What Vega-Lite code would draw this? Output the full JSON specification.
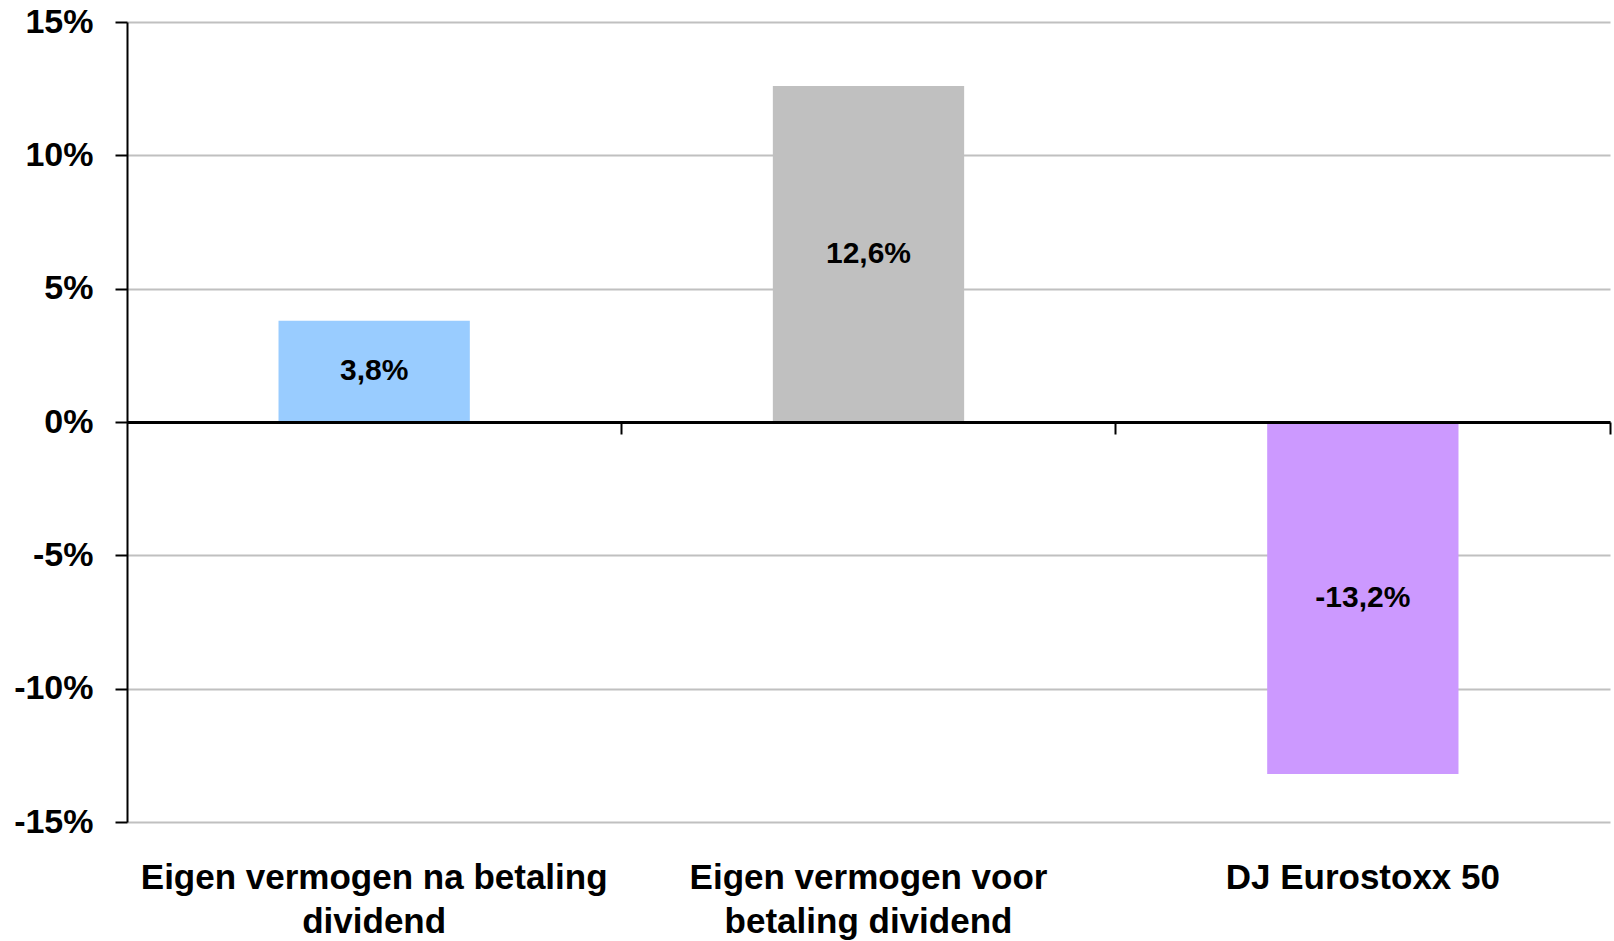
{
  "$schema": "https://vega.github.io/schema/vega-lite/v6.json",
  "width": 1483,
  "height": 800,
  "autosize": {"type": "none"},
  "padding": {"left": 127, "top": 22, "right": 4, "bottom": 119},
  "background": "white",
  "config": {"view": {"stroke": null}, "font": "Liberation Sans"},
  "data": {"values": [
    {"category": "Eigen vermogen na betaling|dividend", "value": 3.8, "label": "3,8%"},
    {"category": "Eigen vermogen voor|betaling dividend", "value": 12.6, "label": "12,6%"},
    {"category": "DJ Eurostoxx 50", "value": -13.2, "label": "-13,2%"}
  ]},
  "resolve": {"axis": {"x": "independent"}},
  "layer": [
    {
      "mark": {"type": "bar"},
      "encoding": {
        "x": {"field": "category", "type": "nominal", "sort": null,
          "scale": {"paddingInner": 0.613, "paddingOuter": 0.3065},
          "axis": {"title": null, "orient": "bottom", "domain": false, "ticks": false, "grid": false,
            "labelAngle": 0, "labelFont": "Liberation Sans", "labelFontSize": 35, "labelFontWeight": "bold",
            "labelColor": "black", "labelPadding": 38, "labelLineHeight": 44, "labelBaseline": "top",
            "labelLimit": 0, "labelOverlap": false,
            "labelExpr": "split(datum.label, '|')"}},
        "y": {"field": "value", "type": "quantitative",
          "scale": {"domain": [-15, 15], "nice": false},
          "axis": {"title": null, "values": [-15, -10, -5, 0, 5, 10, 15], "labelExpr": "datum.value + '%'",
            "grid": true, "gridColor": "#c0c0c0", "gridWidth": 2, "domainColor": "black", "domainWidth": 2,
            "tickColor": "black", "tickWidth": 2, "tickSize": 12, "labelPadding": 22,
            "labelFont": "Liberation Sans", "labelFontSize": 34, "labelFontWeight": "bold", "labelColor": "black"}},
        "color": {"field": "category", "type": "nominal", "sort": null, "legend": null,
          "scale": {"range": ["#99CCFF", "#C0C0C0", "#CC99FF"]}}
      }
    },
    {
      "mark": {"type": "text", "fontSize": 30, "fontWeight": "bold", "color": "black", "font": "Liberation Sans", "baseline": "middle"},
      "encoding": {
        "x": {"field": "category", "type": "nominal", "sort": null, "axis": null},
        "y": {"field": "value", "type": "quantitative", "stack": "zero", "bandPosition": 0.5},
        "text": {"field": "label"}
      }
    },
    {
      "mark": {"type": "text", "opacity": 0},
      "encoding": {
        "x": {"field": "category", "type": "nominal", "sort": null,
          "axis": {"title": null, "orient": "top", "offset": -400, "labels": false, "grid": false,
            "domain": true, "domainColor": "black", "domainWidth": 3, "ticks": true, "bandPosition": 1.792,
            "tickColor": "black", "tickWidth": 2, "tickSize": -12, "zindex": 1}},
        "y": {"datum": 0},
        "text": {"value": ""}
      }
    }
  ]
}
